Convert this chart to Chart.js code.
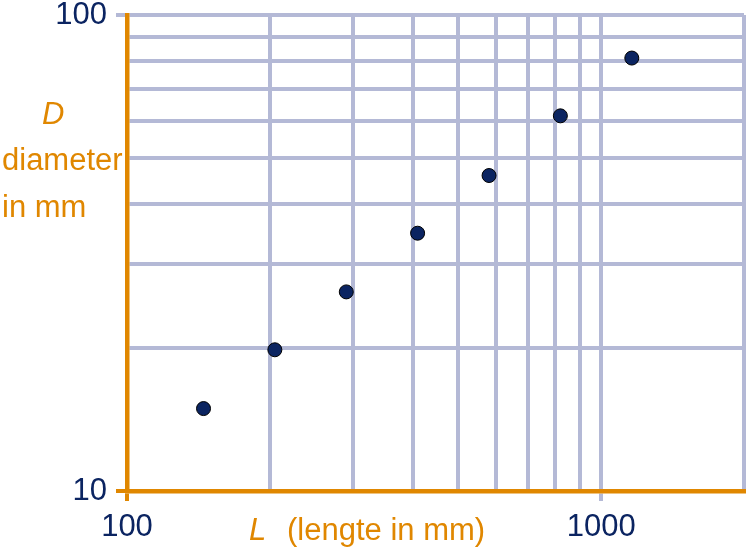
<!DOCTYPE html>
<html>
<head>
<meta charset="utf-8">
<script src="https://cdn.jsdelivr.net/npm/chart.js@4"></script>
<style>
  body { margin: 0; background: #fff; }
  #wrap { width: 748px; height: 551px; }
</style>
</head>
<body>
<div id="wrap"><canvas id="logChart" width="748" height="551"></canvas></div>
<script>
/*--------------------------------------------------------------------------------
----- D (diameter) against L (lengte), both on log scales
--------------------------------------------------------------------------------*/

const lengte = [145, 205, 290, 410, 580, 820, 1160];
const diameter = [14.9, 19.8, 26.2, 34.8, 46, 61.4, 81.2];
const xGridValues = [100, 200, 300, 400, 500, 600, 700, 800, 900, 1000, 2000];
const yGridValues = [10, 20, 30, 40, 50, 60, 70, 80, 90, 100];
const xTickLabels = [100, 1000];
const yTickLabels = [10, 100];

const ORANGE = '#e08700';
const NAVY = '#0b2461';
const GRID = '#b4b9d6';
const FONT = '"Liberation Sans", Arial, sans-serif';

const points = lengte.map((l, i) => ({ x: l, y: diameter[i] }));

// axis titles are plain horizontal text, so they are written on the canvas
const axisTitles = {
  id: 'axisTitles',
  afterDraw(chart) {
    const c = chart.ctx;
    c.save();
    c.fillStyle = ORANGE;
    c.textAlign = 'left';
    c.textBaseline = 'alphabetic';
    c.font = 'italic 31px ' + FONT;
    c.fillText('D', 42, 124);
    c.font = '31px ' + FONT;
    c.fillText('diameter', 2, 170);
    c.fillText('in mm', 2, 217);

    c.font = 'italic 31px ' + FONT;
    c.fillText('L', 249, 540);
    c.font = '31px ' + FONT;
    c.fillText('(lengte in mm)', 287, 540);
    c.restore();
  }
};

function tickColorFor(labels, axisValue) {
  return (c) => {
    if (!c.tick) return 'rgba(0,0,0,0)';
    if (c.tick.value === axisValue) return ORANGE;
    return labels.includes(c.tick.value) ? GRID : 'rgba(0,0,0,0)';
  };
}

const ctx = document.getElementById('logChart');

new Chart(ctx, {
  type: 'scatter',
  data: {
    datasets: [{
      data: points,
      pointRadius: 7,
      pointHoverRadius: 7,
      pointBackgroundColor: NAVY,
      pointBorderColor: '#000',
      pointBorderWidth: 1
    }]
  },
  options: {
    responsive: false,
    animation: false,
    layout: { autoPadding: false, padding: { top: 15, right: 4, left: 0, bottom: 0 } },
    plugins: {
      legend: { display: false },
      tooltip: { enabled: false }
    },
    scales: {
      x: {
        type: 'logarithmic',
        min: 100,
        max: 2000,
        afterBuildTicks(scale) { scale.ticks = xGridValues.map(v => ({ value: v })); },
        afterFit(scale) {
          scale.height = 60;
          scale.paddingLeft = 0;
          scale.paddingRight = 0;
        },
        border: { color: ORANGE, width: 4.5 },
        grid: {
          color: GRID,
          lineWidth: 4,
          tickLength: 10,
          tickWidth: 4,
          tickColor: tickColorFor(xTickLabels, 100)
        },
        ticks: {
          autoSkip: false,
          maxRotation: 0,
          padding: 11,
          color: NAVY,
          font: { family: FONT, size: 31, lineHeight: 1 },
          callback: (v) => xTickLabels.includes(v) ? String(v) : ''
        }
      },
      y: {
        type: 'logarithmic',
        min: 10,
        max: 100,
        afterBuildTicks(scale) { scale.ticks = yGridValues.map(v => ({ value: v })); },
        afterFit(scale) {
          scale.width = 127;
          scale.paddingTop = 0;
          scale.paddingBottom = 0;
        },
        border: { color: ORANGE, width: 4.5 },
        grid: {
          color: GRID,
          lineWidth: 4,
          tickLength: 11,
          tickWidth: 4,
          tickColor: tickColorFor(yTickLabels, 10)
        },
        ticks: {
          autoSkip: false,
          padding: 9,
          color: NAVY,
          font: { family: FONT, size: 31, lineHeight: 1 },
          callback: (v) => yTickLabels.includes(v) ? String(v) : ''
        }
      }
    }
  },
  plugins: [axisTitles]
});
</script>
</body>
</html>
